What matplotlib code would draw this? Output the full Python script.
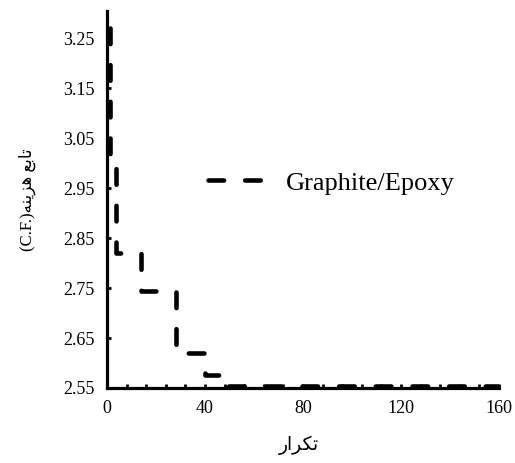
import matplotlib
matplotlib.use("Agg")
from matplotlib import pyplot as plt
from matplotlib.ticker import MultipleLocator, FormatStrFormatter

# step points of the cost function (steps-pre)
iterations = [1.2, 3.7, 13.8, 28, 40, 48, 160]
cost = [3.27, 2.99, 2.82, 2.745, 2.62, 2.575, 2.554]

series_name = "Graphite/Epoxy"
# Persian labels written with presentation forms, in visual order
y_label = "(C.F.)" + "\uFEEA\uFEE8\uFEF3\uFEB0\uFEEB" + " " + "\uFECA\uFE91\uFE8E\uFE97"
x_label = "\uFEAD\uFE8D\uFEAE\uFEDC\uFE97"

x_ticks = [0, 40, 80, 120, 160]
y_ticks = [2.55, 2.65, 2.75, 2.85, 2.95, 3.05, 3.15, 3.25]

fonts = ["Liberation Serif", "DejaVu Sans"]
plt.rcParams["font.family"] = fonts

fig = plt.figure(figsize=(5.15, 4.63), dpi=100)
ax = fig.add_axes([0.2078, 0.162, 0.969 - 0.2078, 0.977 - 0.162])

line, = ax.plot(iterations, cost, drawstyle="steps-pre", color="black",
                lw=3.3, dash_capstyle="round", label=series_name)
line.set_dashes((3.4, 4.6))

ax.set_xlim(0, 160)
ax.set_ylim(2.55, 3.305)
ax.set_xticks(x_ticks)
ax.set_yticks(y_ticks)
ax.xaxis.set_minor_locator(MultipleLocator(8))
ax.yaxis.set_major_formatter(FormatStrFormatter("%.2f"))

for side in ["top", "right"]:
    ax.spines[side].set_visible(False)
for side in ["left", "bottom"]:
    ax.spines[side].set_linewidth(2.3)

ax.tick_params(axis="both", which="both", direction="in", length=3, width=2,
               labelsize=13, pad=9)
ax.tick_params(axis="x", which="minor", length=3, width=2)

ax.set_ylabel(y_label, fontsize=12)
ax.yaxis.set_label_coords(-0.18, 0.5)
ax.set_xlabel(x_label, fontsize=13.5)
ax.xaxis.set_label_coords(0.49, -0.125)

ax.legend(loc="center left", bbox_to_anchor=(208 / 515, 1 - 183 / 463),
          bbox_transform=fig.transFigure, frameon=False, fontsize=19,
          handlelength=2.1, handletextpad=0.85, borderpad=0, borderaxespad=0)

fig.savefig("out.png", dpi=100)
